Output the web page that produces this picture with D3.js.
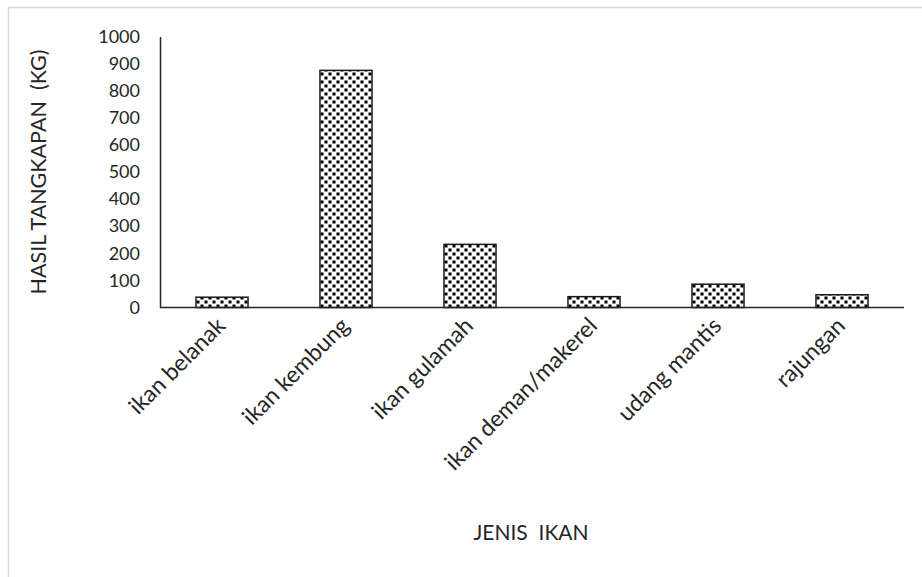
<!DOCTYPE html>
<html>
<head>
<meta charset="utf-8">
<script src="https://cdn.jsdelivr.net/npm/d3@7"></script>
<style>
  html, body { margin: 0; padding: 0; background: #fff; }
  svg { display: block; }
  svg text { font-family: Lato, "Open Sans", sans-serif; }
</style>
</head>
<body>
<svg id="chart" width="922" height="577"></svg>
<script>
// Catch per species (kg)
const categories = ["ikan belanak", "ikan kembung", "ikan gulamah", "ikan deman/makerel", "udang mantis", "rajungan"];
const catchKg = [38, 875, 233, 40, 86, 47];
const yTicks = [0, 100, 200, 300, 400, 500, 600, 700, 800, 900, 1000];
const yTitle = "HASIL TANGKAPAN\u00a0\u00a0(KG)";
const xTitle = "JENIS\u00a0\u00a0IKAN";

const svg = d3.select("#chart");
const W = 922, H = 577;
const plot = { left: 160, right: 904, top: 36.5, bottom: 307.5 };
const textColor = "#262626";

// Frame edges
svg.append("path")
  .attr("d", `M8.5,${H} V7.5 H${W}`)
  .attr("fill", "none")
  .attr("stroke", "#d9d9d9")
  .attr("stroke-width", 1.5);

// Dotted fill used by the bars
const defs = svg.append("defs");
const pat = defs.append("pattern")
  .attr("id", "dots")
  .attr("patternUnits", "userSpaceOnUse")
  .attr("width", 8).attr("height", 8);
pat.append("rect").attr("width", 8).attr("height", 8).attr("fill", "#fff");
[[0.5, 0.5], [4.5, 4.5]].forEach(([x, y]) =>
  pat.append("rect").attr("x", x).attr("y", y).attr("width", 3).attr("height", 3).attr("fill", "#000"));

const x = d3.scaleBand()
  .domain(categories)
  .range([plot.left, plot.right])
  .paddingInner(0.58)
  .paddingOuter(0.29);

const y = d3.scaleLinear()
  .domain([0, 1000])
  .range([plot.bottom, plot.top]);

// Bars
svg.append("g")
  .selectAll("rect")
  .data(categories)
  .join("rect")
  .attr("x", d => x(d))
  .attr("y", (d, i) => y(catchKg[i]))
  .attr("width", x.bandwidth())
  .attr("height", (d, i) => y(0) - y(catchKg[i]))
  .attr("fill", "url(#dots)")
  .attr("stroke", "#1a1a1a")
  .attr("stroke-width", 1.5);

// Y axis
const yAxis = svg.append("g")
  .attr("transform", `translate(${plot.left},0)`)
  .call(d3.axisLeft(y).tickValues(yTicks).tickSize(0).tickPadding(20).tickFormat(d3.format("d")))
  .attr("font-family", null);
yAxis.select(".domain").attr("stroke", "#262626").attr("stroke-width", 1.5);
yAxis.selectAll("text")
  .attr("fill", textColor)
  .style("font-size", "18px");

// X axis
const xAxis = svg.append("g")
  .attr("transform", `translate(0,${plot.bottom})`)
  .call(d3.axisBottom(x).tickSize(0).tickFormat(""))
  .attr("font-family", null);
xAxis.select(".domain")
  .attr("d", `M${plot.left},0H${plot.right}`)
  .attr("stroke", "#262626").attr("stroke-width", 1.5);

xAxis.selectAll(".tick").append("text")
  .attr("text-anchor", "end")
  .attr("transform", "translate(-1,14) rotate(-45)")
  .attr("dy", "0.35em")
  .attr("fill", textColor)
  .style("font-size", "23px")
  .text(d => d);

// Axis titles
svg.append("text")
  .attr("transform", `translate(38,${(plot.top + plot.bottom) / 2}) rotate(-90)`)
  .attr("text-anchor", "middle")
  .attr("dy", "0.35em")
  .attr("fill", textColor)
  .style("font-size", "21.5px")
  .text(yTitle);

svg.append("text")
  .attr("x", 531)
  .attr("y", 533)
  .attr("text-anchor", "middle")
  .attr("dy", "0.35em")
  .attr("fill", textColor)
  .style("font-size", "21px")
  .text(xTitle);
</script>
</body>
</html>
